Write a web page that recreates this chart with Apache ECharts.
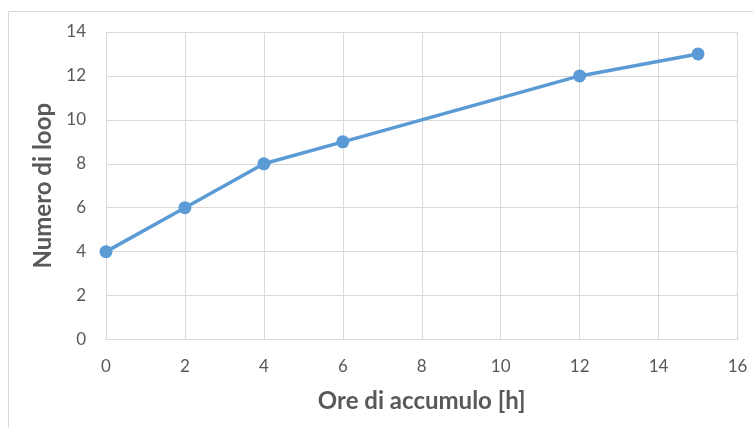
<!DOCTYPE html>
<html>
<head>
<meta charset="utf-8">
<script src="https://cdn.jsdelivr.net/npm/echarts@6/dist/echarts.min.js"></script>
<style>
html,body{margin:0;padding:0;background:#fff;}
#c{width:753px;height:428px;}
</style>
</head>
<body>
<div id="c"></div>
<script>
const xValues = [0, 2, 4, 6, 12, 15];
const yValues = [4, 6, 8, 9, 12, 13];
const xTitle = 'Ore di accumulo [h]';
const yTitle = 'Numero di loop';

const chart = echarts.init(document.getElementById('c'), null, {renderer: 'canvas'});
const font = 'Lato, "Open Sans", sans-serif';
chart.setOption({
  animation: false,
  backgroundColor: '#ffffff',
  graphic: [{
    type: 'rect',
    shape: {x: 8.5, y: 11.5, width: 800, height: 500},
    style: {fill: 'none', stroke: '#d9d9d9', lineWidth: 1},
    silent: true
  }],
  grid: {left: 106, right: 15.5, top: 32, bottom: 88.5, containLabel: false},
  xAxis: {
    type: 'value', min: 0, max: 16, interval: 2,
    name: xTitle, nameLocation: 'middle', nameGap: 50,
    nameTextStyle: {fontFamily: font, fontSize: 24, fontWeight: 'bold', color: '#595959'},
    axisLine: {show: true, lineStyle: {color: '#d9d9d9', width: 1}},
    axisTick: {show: false},
    axisLabel: {fontFamily: font, fontSize: 17, color: '#595959', margin: 19},
    splitLine: {show: true, lineStyle: {color: '#d9d9d9', width: 1}}
  },
  yAxis: {
    type: 'value', min: 0, max: 14, interval: 2,
    name: yTitle, nameLocation: 'middle', nameGap: 44,
    nameTextStyle: {fontFamily: font, fontSize: 24, fontWeight: 'bold', color: '#595959'},
    axisLine: {show: false},
    axisTick: {show: false},
    axisLabel: {fontFamily: font, fontSize: 17, color: '#595959', margin: 20},
    splitLine: {show: true, lineStyle: {color: '#d9d9d9', width: 1}}
  },
  series: [{
    type: 'line',
    data: xValues.map((x, i) => [x, yValues[i]]),
    lineStyle: {color: '#5b9bd5', width: 3.5},
    itemStyle: {color: '#5b9bd5'},
    symbol: 'circle',
    symbolSize: 13,
    smooth: false
  }]
});
</script>
</body>
</html>
